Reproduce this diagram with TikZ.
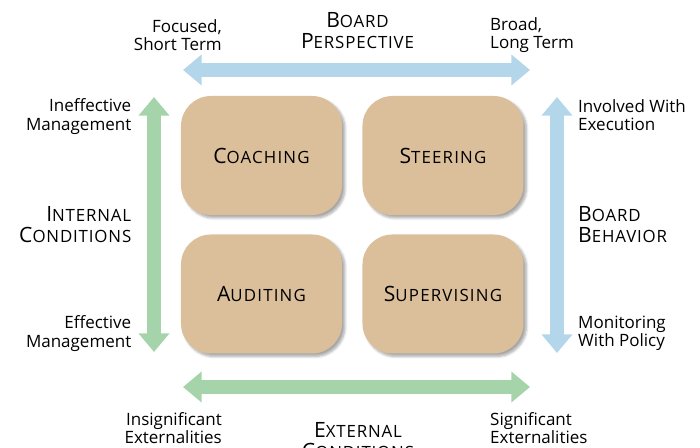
\documentclass[tikz,border=0pt]{standalone}
\usepackage{fontspec}
\setmainfont{Open Sans}
\usetikzlibrary{arrows.meta,positioning,shadows.blur}

\definecolor{quadtan}{HTML}{DBBE9A}
\definecolor{axisblue}{HTML}{B3D6EA}
\definecolor{axisgreen}{HTML}{A6D4AA}

% fake small caps: large first letter, smaller capitals after it
\newcommand{\smcap}[2]{{\fontsize{18}{18}\selectfont #1}{\fontsize{14.4}{18}\selectfont #2}}

\begin{document}
\begin{tikzpicture}[
    x=0.03cm, y=-0.03cm,
    quad/.style={rectangle, rounded corners=0.9cm, fill=quadtan, minimum width=4.83cm, minimum height=3.57cm, align=center,
        font=\addfontfeature{LetterSpace=7},
        blur shadow={shadow xshift=2.5pt, shadow yshift=-2.5pt, shadow opacity=35, shadow blur steps=6}},
    axis/.style={line width=12pt, {Triangle[length=16pt,width=25.6pt]}-{Triangle[length=16pt,width=25.6pt]}},
    note/.style={font=\fontsize{14.5}{15.5}\selectfont, inner sep=0pt},
    heading/.style={font=\fontsize{18}{18}\selectfont\addfontfeature{LetterSpace=5}, inner sep=0pt}
]
    \useasboundingbox (0,0) rectangle (700,448);
    \clip (0,0) rectangle (700,448);

    % Create the four quadrants
    \node[quad] (coaching) at (261.5,155.5) {\smcap{C}{OACHING}};
    \node[quad, right=0.6cm of coaching] (steering) {\smcap{S}{TEERING}};
    \node[quad, below=0.57cm of coaching] (auditing) {\smcap{A}{UDITING}};
    \node[quad, right=0.6cm of auditing] (supervising) {\smcap{S}{UPERVISING}};

    % Axis end points
    \coordinate (persp-l) at (183,70);
    \coordinate (persp-r) at (530,70);
    \coordinate (intern-t) at (154,97);
    \coordinate (intern-b) at (154,352);
    \coordinate (behav-t) at (557,97);
    \coordinate (behav-b) at (557,353);
    \coordinate (extern-l) at (183,387);
    \coordinate (extern-r) at (530,387);

    % Double headed axes
    \draw[axis, axisblue] (persp-l) -- (persp-r);
    \draw[axis, axisgreen] (intern-t) -- (intern-b);
    \draw[axis, axisblue] (behav-t) -- (behav-b);
    \draw[axis, axisgreen] (extern-l) -- (extern-r);

    % Top labels
    \node[note, anchor=east, align=right] (focused) at (222,35) {Focused,\\Short Term};
    \node[heading, align=center] (perspective) at (357.5,31) {\smcap{B}{OARD}\\\smcap{P}{ERSPECTIVE}};
    \node[note, anchor=west, align=left] (broad) at (490,35) {Broad,\\Long Term};

    % Left labels
    \node[note, anchor=east, align=right] (ineffective) at (131.5,116.5) {Ineffective\\Management};
    \node[heading, anchor=east, align=right] (internal) at (131.5,225) {\smcap{I}{NTERNAL}\\\smcap{C}{ONDITIONS}};
    \node[note, anchor=east, align=right] (effective) at (131.5,333.5) {Effective\\Management};

    % Right labels
    \node[note, anchor=west, align=left] (involved) at (578,115.5) {Involved With\\Execution};
    \node[heading, anchor=west, align=left] (behavior) at (578,225) {\smcap{B}{OARD}\\\smcap{B}{EHAVIOR}};
    \node[note, anchor=west, align=left] (monitoring) at (578,333.5) {Monitoring\\With Policy};

    % Bottom labels
    \node[note, anchor=east, align=right] (insignificant) at (222,428) {Insignificant\\Externalities};
    \node[heading, align=center] (external) at (358,441) {\smcap{E}{XTERNAL}\\\smcap{C}{ONDITIONS}};
    \node[note, anchor=west, align=left] (significant) at (490,428) {Significant\\Externalities};
\end{tikzpicture}
\end{document}
